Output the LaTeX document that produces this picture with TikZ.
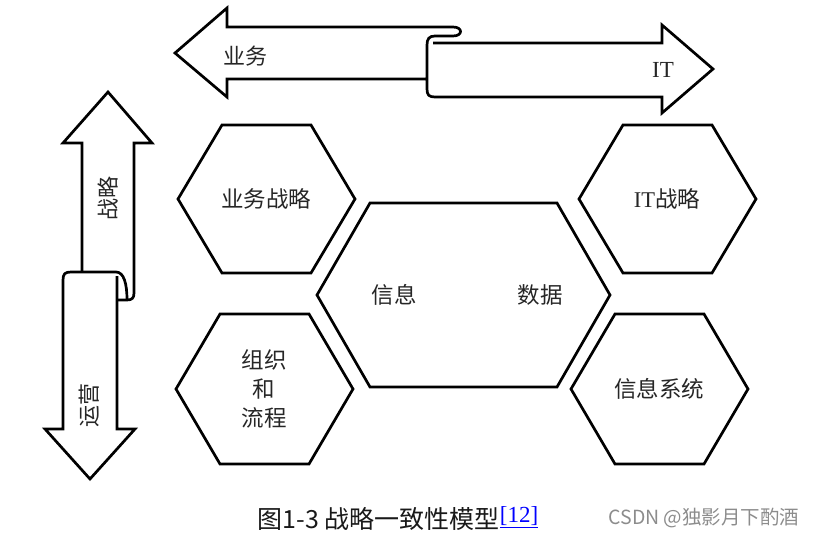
\documentclass[tikz,border=0pt]{standalone}
\usepackage{fontspec}
\setmainfont{Liberation Serif}
\newfontfamily\cjk{Noto Sans CJK SC}
\usepackage{xcolor}
\usetikzlibrary{positioning}

\begin{document}
\begin{tikzpicture}[x=1pt, y=-1pt,
    outline/.style={draw=black, line width=2.7pt, line join=miter},
    hexlabel/.style={font=\cjk\fontsize{22.5}{29}\selectfont, text=black!85, align=center, inner sep=0pt},
    arrlabel/.style={font=\cjk\fontsize{22}{26}\selectfont, text=black!85, inner sep=0pt},
    caption/.style={font=\cjk\fontsize{25}{30}\selectfont, text=black!90, inner sep=0pt}
]
\useasboundingbox (0,0) rectangle (814,536);

% Business <-> IT band
\draw[outline] (427,79) -- (227,79) -- (227,97) -- (175,53) -- (227,8) -- (227,27) -- (453,27)
    .. controls (463,27) and (463,36) .. (453,36) -- (435,36)
    .. controls (429,36) and (427,39) .. (427,45) -- (427,89)
    .. controls (427,95) and (429,97) .. (435,97) -- (662,97) -- (662,113) -- (713,69)
    -- (662,25) -- (662,43) -- (433,43);
\node[arrlabel] (biz) at (245,56) {业务};
\node[arrlabel, font=\fontsize{23}{26}\selectfont] (it) at (663,70) {IT};

% Strategy <-> Operations band
\draw[outline] (82,272) -- (82,143) -- (63,143) -- (108,92) -- (152,143) -- (134,143) -- (134,293)
    .. controls (134,298) and (132,300) .. (127,300) -- (117,300);
\draw[outline] (127,300) .. controls (127,284) and (124,272) .. (116,272) -- (71,272)
    .. controls (65,272) and (63,274) .. (63,280) -- (63,429) -- (45,429) -- (90,479)
    -- (135,429) -- (117,429) -- (117,276);
\node[arrlabel, rotate=90] (strat) at (108,198) {战略};
\node[arrlabel, rotate=90] (ops) at (89,405) {运营};

% hexagons
\coordinate (c1) at (266,199);
\coordinate (c2) at (667,199);
\coordinate (c3) at (264,389);
\coordinate (c4) at (659,389);
\coordinate (c0) at (463,295);

\draw[outline] (c1) ++(-88,0) -- ++(44,-74) -- ++(89,0) -- ++(44,74) -- ++(-44,74) -- ++(-89,0) -- cycle;
\draw[outline] (c2) ++(-88,0) -- ++(44,-74) -- ++(89,0) -- ++(44,74) -- ++(-44,74) -- ++(-89,0) -- cycle;
\draw[outline] (c3) ++(-88,0) -- ++(44,-75) -- ++(89,0) -- ++(44,75) -- ++(-44,75) -- ++(-89,0) -- cycle;
\draw[outline] (c4) ++(-88,0) -- ++(44,-75) -- ++(89,0) -- ++(44,75) -- ++(-44,75) -- ++(-89,0) -- cycle;
\draw[outline] (c0) ++(-146,0) -- ++(53,-92) -- ++(187,0) -- ++(53,92) -- ++(-53,92) -- ++(-187,0) -- cycle;

\node[hexlabel] (bizstrat) at (c1) {业务战略};
\node[hexlabel] (itstrat) at (c2) {{\fontspec{Liberation Serif}IT}战略};
\node[hexlabel] (orgproc) at (c3) {组织\\和\\流程};
\node[hexlabel] (infosys) at (c4) {信息系统};
\node[hexlabel] (info) at (394,295) {信息};
\node[hexlabel] (data) at (540,295) {数据};

% caption
\node[caption] (cap) at (398,519) {图1-3 战略一致性模型\raisebox{6pt}{\fontspec{Liberation Serif}\fontsize{23}{24}\selectfont\color{blue}\underline{[12]}}};
\node[caption, font=\cjk\fontsize{19.5}{22}\selectfont, text=black!45] (mark) at (704,518) {CSDN @独影月下酌酒};
\end{tikzpicture}
\end{document}
